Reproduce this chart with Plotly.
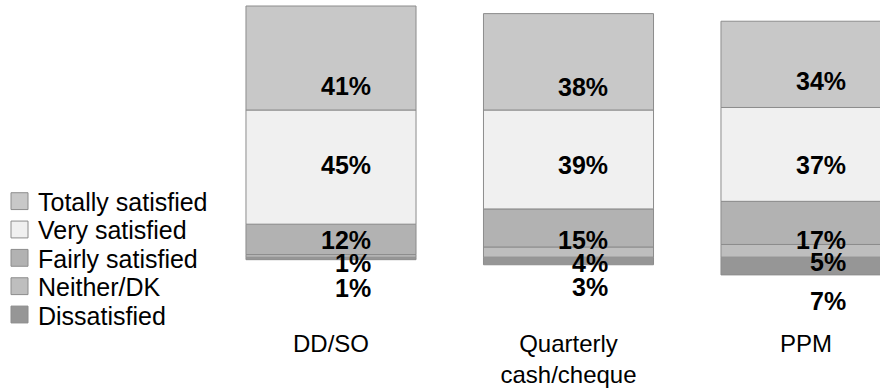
import plotly.graph_objects as go

# Payment method groups
categories = ["DD/SO", "Quarterly<br>cash/cheque", "PPM"]

# Satisfaction shares (%) per payment method
totally_satisfied = [41, 38, 34]
very_satisfied = [45, 39, 37]
fairly_satisfied = [12, 15, 17]
neither_dk = [1, 4, 5]
dissatisfied = [1, 3, 7]

series_names = ["Totally satisfied", "Very satisfied", "Fairly satisfied",
                "Neither/DK", "Dissatisfied"]
series_values = [totally_satisfied, very_satisfied, fairly_satisfied,
                 neither_dk, dissatisfied]
series_colors = ["#c8c8c8", "#f0f0f0", "#b2b2b2", "#bebebe", "#969696"]

# Vertical placement of the value labels (in axis units), one row per series
label_rows = [
    [67.3, 66.9, 69.6],
    [36.2, 36.2, 36.2],
    [6.7, 6.9, 6.9],
    [-2.3, -2.3, -1.9],
    [-12.0, -11.6, -17.4],
]

W, H = 880, 388
MB = 58
PLOT_H = H - MB
FONT = "Liberation Sans, Arial, sans-serif"

fig = go.Figure()

# Dissatisfied drawn below the zero line, the rest stacked above it
stack_order = [4, 3, 2, 1, 0]
for k in stack_order:
    vals = series_values[k]
    y = [-v for v in vals] if k == 4 else vals
    fig.add_trace(go.Bar(
        x=categories, y=y, name=series_names[k],
        marker=dict(color=series_colors[k], line=dict(color="#8c8c8c", width=1)),
        width=0.716, showlegend=False, hoverinfo="skip",
    ))

annotations = []
for k, vals in enumerate(series_values):
    for i, v in enumerate(vals):
        annotations.append(dict(
            x=i + 0.1768, y=label_rows[k][i], xref="x", yref="y",
            text=f"{v}%", showarrow=False, xanchor="right", yanchor="middle",
            font=dict(family=FONT, size=25, color="#000000", weight="bold"),
        ))

# Legend built from the series list
shapes = []
sq = 17
row0, row_step = 203, 28.6
for k, name in enumerate(series_names):
    cy = row0 + k * row_step
    shapes.append(dict(
        type="rect", xref="paper", yref="paper",
        x0=11 / W, x1=(11 + sq) / W,
        y0=1 - (cy + sq / 2) / PLOT_H, y1=1 - (cy - sq / 2) / PLOT_H,
        fillcolor=series_colors[k], line=dict(color="#8c8c8c", width=1),
    ))
    annotations.append(dict(
        x=36 / W, y=1 - (cy + 1) / PLOT_H, xref="paper", yref="paper",
        text=name, showarrow=False, xanchor="left", yanchor="middle",
        font=dict(family=FONT, size=25, color="#000000"),
    ))

fig.update_layout(
    width=W, height=H,
    margin=dict(l=0, r=0, t=0, b=MB),
    barmode="relative",
    plot_bgcolor="#ffffff", paper_bgcolor="#ffffff",
    showlegend=False,
    annotations=annotations, shapes=shapes,
    xaxis=dict(
        type="category", range=[-1.3937, 2.3116],
        showgrid=False, zeroline=False, showline=False, ticks="",
        tickfont=dict(family=FONT, size=24, color="#000000"),
    ),
    yaxis=dict(
        range=[-27.54, 101.37], showgrid=False, zeroline=False,
        showline=False, showticklabels=False, ticks="",
    ),
)

fig.write_html("out.html")
